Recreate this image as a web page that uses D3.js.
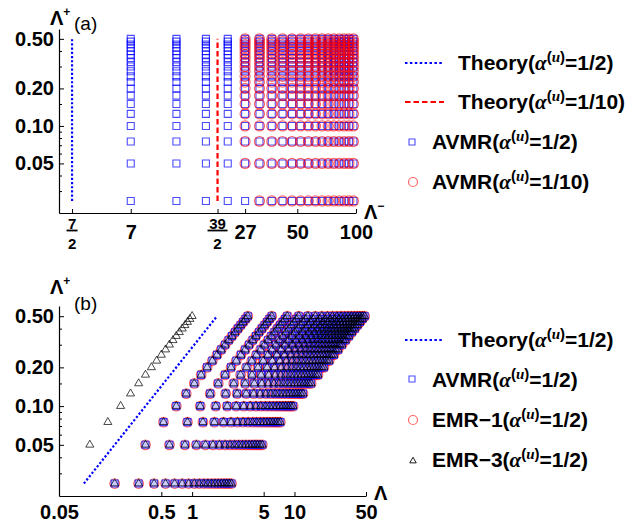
<!DOCTYPE html>
<html lang="en">
<head>
<meta charset="utf-8"/>
<script src="https://cdn.jsdelivr.net/npm/d3@7"></script>
<style>
  body { margin: 0; background: #fff; }
  svg text { font-family: "Liberation Sans", Arial, sans-serif; font-weight: bold; fill: #000; }
  svg text.plain { font-weight: normal; }
</style>
</head>
<body>
<svg id="chart" width="643" height="528"></svg>
<script>
// Λ+ values (rows) and Λ− values (columns) of the simulations
const lamPlus  = [0.025, 0.05, 0.075, 0.1, 0.125, 0.15, 0.175, 0.2, 0.225, 0.25,
                  0.275, 0.3, 0.325, 0.35, 0.375, 0.4, 0.425, 0.45, 0.475, 0.5];
const lamMinus = [7, 12, 17, 22, 27, 32, 37, 42, 47, 52, 57, 62, 67, 72, 77, 82, 87, 92, 97];
// AVMR with alpha=1/10 only exists from Λ− = 27 (and not at the lowest Λ+ there)
const avmrTenthMinus = [27, 32, 37, 42, 47, 52, 57, 62, 67, 72, 77, 82, 87, 92, 97];
const avmrTenthSkip  = [[27, 0.025]];
// theory thresholds on Λ−
const theoryHalf  = 3.5;   // 7/2
const theoryTenth = 19.5;  // 39/2
const theoryPlus  = [0.025, 0.5];
// EMR-3 has one extra column at Λ− = 2, starting at Λ+ = 0.05
const emr3ExtraMinus = [2];
const emr3ExtraMinPlus = 0.05;

// ticks
const yTicks      = [0.05, 0.1, 0.2, 0.5];
const yTickLabels = ["0.05", "0.10", "0.20", "0.50"];
const yMinorTicks = [0.03, 0.04, 0.06, 0.07, 0.08, 0.09, 0.15, 0.3, 0.4];
const xTicksA      = [3.5, 7, 19.5, 27, 50, 100];
const xTickLabelsA = ["7/2", "7", "39/2", "27", "50", "100"];
const xTicksB      = [0.05, 0.5, 1, 5, 10, 50];
const xTickLabelsB = ["0.05", "0.5", "1", "5", "10", "50"];

const BLUE = "#0000ff", RED = "#ff0000";
const svg = d3.select("#chart");

const xA = d3.scaleLog().domain([3, 100]).range([59, 356]);
const yA = d3.scaleLog().domain([0.02, 0.6]).range([213, 29]);
const xB = d3.scaleLog().domain([0.05, 50]).range([59, 366]);
const yB = d3.scaleLog().domain([0.02, 0.6]).range([496, 306]);

function drawAxes(x, y, xTicks, xLabels, xPad) {
  const y0 = y.range()[0];
  const gx = svg.append("g").attr("transform", `translate(0,${y0})`)
    .call(d3.axisBottom(x).tickValues(xTicks).tickSize(-4).tickSizeOuter(0).tickPadding(xPad)
      .tickFormat((d, i) => xLabels[i].includes("/") ? "" : xLabels[i]));
  gx.selectAll("text").attr("font-size", 20).attr("font-family", null);
  // fractions
  xTicks.forEach((v, i) => {
    const lab = xLabels[i];
    if (!lab.includes("/")) return;
    const [num, den] = lab.split("/");
    const cx = x(v);
    const g = svg.append("g").attr("font-size", 15);
    g.append("text").attr("x", cx).attr("y", y0 + 16).attr("text-anchor", "middle").text(num);
    g.append("line").attr("x1", cx - num.length * 4.5 - 1).attr("x2", cx + num.length * 4.5 + 1)
      .attr("y1", y0 + 17.5).attr("y2", y0 + 17.5).attr("stroke", "#000").attr("stroke-width", 1.8);
    g.append("text").attr("x", cx).attr("y", y0 + 36).attr("text-anchor", "middle").text(den);
  });
  const x0 = x.range()[0];
  const gy = svg.append("g").attr("transform", `translate(${x0},0)`)
    .call(d3.axisLeft(y).tickValues(yTicks).tickSize(-5).tickSizeOuter(0).tickPadding(5)
      .tickFormat((d, i) => yTickLabels[i]));
  gy.selectAll("text").attr("font-size", 20).attr("font-family", null);
  svg.append("g").attr("transform", `translate(${x0},0)`)
    .call(d3.axisLeft(y).tickValues(yMinorTicks).tickSize(-3).tickSizeOuter(0).tickFormat(""))
    .select(".domain").remove();
  svg.selectAll(".domain").attr("stroke-width", 1.2);
}

function axisName(x, y, sup) {
  const t = svg.append("text").attr("x", x).attr("y", y).attr("font-size", 20);
  t.append("tspan").text("Λ");
  t.append("tspan").attr("font-size", 12).attr("dy", -9).text(sup);
}

function richLabel(x, y, pre, post) {
  const t = svg.append("text").attr("x", x).attr("y", y).attr("font-size", 21);
  t.append("tspan").text(pre + "(");
  t.append("tspan").attr("font-family", "Liberation Serif").attr("font-style", "italic").text("α");
  t.append("tspan").attr("font-size", 15).attr("dy", -8).text("(");
  t.append("tspan").attr("font-size", 15).attr("font-family", "Liberation Serif").attr("font-style", "italic").text("u");
  t.append("tspan").attr("font-size", 15).text(")");
  t.append("tspan").attr("dy", 8).text("=" + post + ")");
}

const sq  = d3.symbol().type(d3.symbolSquare).size(49)();
const sqL = d3.symbol().type(d3.symbolSquare).size(36)();
const tri = d3.symbol().type(d3.symbolTriangle).size(28)();
const triL = d3.symbol().type(d3.symbolTriangle).size(18)();

// ---------------- panel (a) ----------------
drawAxes(xA, yA, xTicksA, xTickLabelsA, 12);
axisName(50, 25, "+");
svg.append("text").attr("class", "plain").attr("x", 74).attr("y", 30).attr("font-size", 19).text("(a)");
axisName(364, 219, "−");

[[theoryHalf, BLUE, "2.2,2"], [theoryTenth, RED, "5.5,3"]].forEach(([lm, c, dash]) => {
  svg.append("line").attr("x1", xA(lm)).attr("x2", xA(lm))
    .attr("y1", yA(theoryPlus[0])).attr("y2", yA(theoryPlus[1]))
    .attr("stroke", c).attr("stroke-width", 2.2).attr("stroke-dasharray", dash);
});

const ptsA1 = lamMinus.flatMap(lm => lamPlus.map(lp => [lm, lp]));
const ptsA2 = avmrTenthMinus.flatMap(lm => lamPlus.map(lp => [lm, lp]))
  .filter(p => !avmrTenthSkip.some(s => s[0] === p[0] && s[1] === p[1]));

svg.append("g").selectAll("path").data(ptsA1).join("path")
  .attr("d", sq).attr("transform", d => `translate(${xA(d[0])},${yA(d[1])})`)
  .attr("fill", "none").attr("stroke", BLUE).attr("stroke-opacity", 0.7).attr("stroke-width", 1.1);
svg.append("g").selectAll("circle").data(ptsA2).join("circle")
  .attr("cx", d => xA(d[0])).attr("cy", d => yA(d[1])).attr("r", 5)
  .attr("fill", "none").attr("stroke", RED).attr("stroke-opacity", 0.6).attr("stroke-width", 1.2);

// legend (a)
svg.append("line").attr("x1", 405).attr("x2", 444).attr("y1", 63).attr("y2", 63)
  .attr("stroke", BLUE).attr("stroke-width", 2.2).attr("stroke-dasharray", "2.5,2.4");
richLabel(458, 70, "Theory", "1/2");
svg.append("line").attr("x1", 405).attr("x2", 444).attr("y1", 102).attr("y2", 102)
  .attr("stroke", RED).attr("stroke-width", 2.2).attr("stroke-dasharray", "5.5,3");
richLabel(458, 109, "Theory", "1/10");
svg.append("path").attr("d", sqL).attr("transform", "translate(412,142)")
  .attr("fill", "none").attr("stroke", BLUE).attr("stroke-opacity", 0.7).attr("stroke-width", 1.1);
richLabel(432, 149, "AVMR", "1/2");
svg.append("circle").attr("cx", 413).attr("cy", 182).attr("r", 4.5)
  .attr("fill", "none").attr("stroke", RED).attr("stroke-opacity", 0.6).attr("stroke-width", 1.2);
richLabel(432, 189, "AVMR", "1/10");

// ---------------- panel (b) ----------------
drawAxes(xB, yB, xTicksB, xTickLabelsB, 8.5);
axisName(50, 294, "+");
svg.append("text").attr("class", "plain").attr("x", 74).attr("y", 310).attr("font-size", 19).text("(b)");
axisName(374, 500, "");

svg.append("line")
  .attr("x1", xB(theoryPlus[0] * theoryHalf)).attr("y1", yB(theoryPlus[0]))
  .attr("x2", xB(theoryPlus[1] * theoryHalf)).attr("y2", yB(theoryPlus[1]))
  .attr("stroke", BLUE).attr("stroke-width", 2.2).attr("stroke-dasharray", "2.2,2");

const ptsB = lamMinus.flatMap(lm => lamPlus.map(lp => [lm * lp, lp]));
const ptsB3 = emr3ExtraMinus.flatMap(lm => lamPlus.filter(lp => lp >= emr3ExtraMinPlus).map(lp => [lm * lp, lp]))
  .concat(ptsB);

svg.append("g").selectAll("circle").data(ptsB).join("circle")
  .attr("cx", d => xB(d[0])).attr("cy", d => yB(d[1])).attr("r", 4.8)
  .attr("fill", "none").attr("stroke", RED).attr("stroke-opacity", 0.6).attr("stroke-width", 1.2);
svg.append("g").selectAll("path").data(ptsB).join("path")
  .attr("d", sq).attr("transform", d => `translate(${xB(d[0])},${yB(d[1])})`)
  .attr("fill", "#8c8cff").attr("fill-opacity", 0.45)
  .attr("stroke", BLUE).attr("stroke-opacity", 0.7).attr("stroke-width", 1.1);
svg.append("g").selectAll("path").data(ptsB3).join("path")
  .attr("d", tri).attr("transform", d => `translate(${xB(d[0])},${yB(d[1])})`)
  .attr("fill", "none").attr("stroke", "#000").attr("stroke-opacity", 0.8).attr("stroke-width", 0.9);

// legend (b)
svg.append("line").attr("x1", 405).attr("x2", 444).attr("y1", 340).attr("y2", 340)
  .attr("stroke", BLUE).attr("stroke-width", 2.2).attr("stroke-dasharray", "2.5,2.4");
richLabel(458, 347, "Theory", "1/2");
svg.append("path").attr("d", sqL).attr("transform", "translate(412,379)")
  .attr("fill", "none").attr("stroke", BLUE).attr("stroke-opacity", 0.7).attr("stroke-width", 1.1);
richLabel(432, 387, "AVMR", "1/2");
svg.append("circle").attr("cx", 413).attr("cy", 420).attr("r", 4.5)
  .attr("fill", "none").attr("stroke", RED).attr("stroke-opacity", 0.6).attr("stroke-width", 1.2);
richLabel(432, 427, "EMR−1", "1/2");
svg.append("path").attr("d", triL).attr("transform", "translate(413,461)")
  .attr("fill", "none").attr("stroke", "#000").attr("stroke-width", 0.9);
richLabel(432, 467, "EMR−3", "1/2");
</script>
</body>
</html>
